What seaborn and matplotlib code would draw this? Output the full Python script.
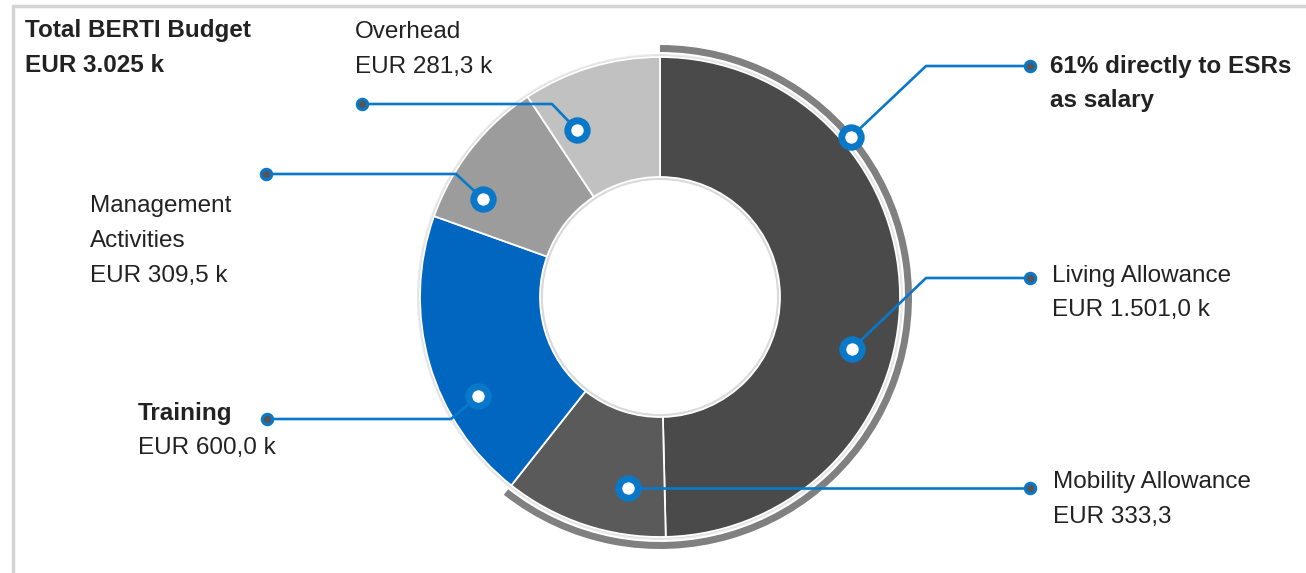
import matplotlib.pyplot as plt
import seaborn as sns

# BERTI budget split (k EUR), clockwise from 12 o'clock
categories = ["Living Allowance", "Mobility Allowance", "Training",
              "Management Activities", "Overhead"]
amounts = [1501.0, 333.3, 600.0, 309.5, 281.3]
amount_labels = ["EUR 1.501,0 k", "EUR 333,3", "EUR 600,0 k", "EUR 309,5 k", "EUR 281,3 k"]
total_label = "EUR 3.025 k"
esr_parts = ["Living Allowance", "Mobility Allowance"]   # paid directly to the ESRs

seg_colors = ["#4a4a4a", "#5a5a5a", "#0066bf", "#9c9c9c", "#c1c1c1"]
blue = "#0a78c8"
txt = "#222222"

total = sum(amounts)
esr = sum(a for c, a in zip(categories, amounts) if c in esr_parts)
esr_share = esr / total

sns.set_theme(style="white")
plt.rcParams["font.family"] = ["Liberation Sans", "DejaVu Sans"]

W, H = 1306, 573
CX, CY, R = 660, 297, 240

fig = plt.figure(figsize=(W / 100, H / 100), dpi=100)
ax = fig.add_axes([0, 0, 1, 1])

# y axis runs downwards (pixel style), so start at -90 and go "counterclock"
# in data terms -> visually clockwise from the top
# soft shadows round the ring edges
ax.pie([1], radius=R + 3, colors=["#e9e9e9"], center=(CX, CY),
       wedgeprops=dict(width=6, linewidth=0))
ax.pie([1], radius=R + 1.5, colors=["#dcdcdc"], center=(CX, CY),
       wedgeprops=dict(width=4, linewidth=0))
ax.pie([1], radius=R / 2 + 1, colors=["#dadada"], center=(CX, CY),
       wedgeprops=dict(width=4, linewidth=0))
ax.pie(amounts, radius=R, colors=seg_colors, center=(CX, CY),
       startangle=-90, counterclock=True,
       wedgeprops=dict(width=R / 2, edgecolor="white", linewidth=1.3))
# outer arc marking the ESR salary share
ax.pie([esr_share, 1 - esr_share], radius=252, colors=["#808080", "none"],
       center=(CX, CY), startangle=-90, counterclock=True,
       wedgeprops=dict(width=7, linewidth=0))

# callouts: marker on ring -> elbow -> end dot
callouts = [
    [(851, 137), (926, 66), (1030, 66)],
    [(852, 349), (926, 278), (1030, 278)],
    [(628, 488), (1030, 488)],
    [(478, 396), (451, 419), (267, 419)],
    [(483, 199), (456, 174), (266, 174)],
    [(577, 130), (552, 104), (362, 104)],
]
for pts in callouts:
    xs = [p[0] for p in pts]
    ys = [p[1] for p in pts]
    ax.plot(xs, ys, color=blue, lw=1.9, solid_capstyle="butt", zorder=5)
    ax.plot(xs[-1], ys[-1], "o", ms=7.5, mfc="#555555", mec=blue, mew=2.2, zorder=6)
    ax.plot(xs[0], ys[0], "o", ms=14, mfc="white", mec=blue, mew=5, zorder=7)

# text blocks: (x, [(baseline, text, bold), ...])
fs = 17.5
blocks = [
    (25, [(37, "Total BERTI Budget", True), (72, total_label, True)]),
    (355, [(38, categories[4].split()[0], False), (73, amount_labels[4], False)]),
    (90, [(212, "Management", False), (247, "Activities", False), (282, amount_labels[3], False)]),
    (138, [(420, categories[2], True), (454, amount_labels[2], False)]),
    (1050, [(73, f"{round(esr_share * 100)}% directly to ESRs", True), (107, "as salary", True)]),
    (1052, [(282, categories[0], False), (316, amount_labels[0], False)]),
    (1053, [(488, categories[1], False), (523, amount_labels[1], False)]),
]
for x, lines in blocks:
    for y, s, bold in lines:
        ax.text(x, y, s, fontsize=fs, color=txt, va="baseline", ha="left",
                fontweight="bold" if bold else "normal")

# panel frame (top + left edge)
ax.plot([13, W], [6, 6], color="#d4d4d4", lw=2.5, zorder=1)
ax.plot([13, 13], [6, H], color="#d4d4d4", lw=2.5, zorder=1)

ax.set_xlim(0, W)
ax.set_ylim(H, 0)
ax.set_aspect("equal")
ax.axis("off")

fig.savefig("out.png", dpi=100, facecolor="white")
